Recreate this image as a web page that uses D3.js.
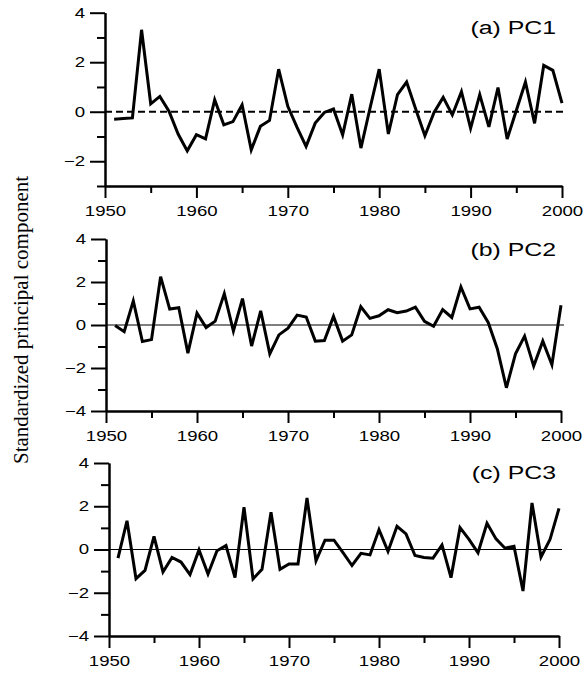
<!DOCTYPE html>
<html>
<head>
<meta charset="utf-8">
<script src="https://cdn.jsdelivr.net/npm/d3@7"></script>
<style>
  body { margin: 0; background: #fff; }
  svg { display: block; }
  .axis path, .axis line { stroke: #000; stroke-width: 2; }
  .axis text { font-family: "Liberation Sans", Arial, sans-serif; font-size: 14px; fill: #000; }
</style>
</head>
<body>
<div id="chart"></div>
<script>
// Years 1951-2000
const years = d3.range(1951, 2001);

const pc1 = [
  -0.30, -0.27, -0.25, 3.31, 0.32, 0.62, 0.02, -0.90, -1.58, -0.93,
  -1.10, 0.48, -0.53, -0.40, 0.28, -1.54, -0.59, -0.35, 1.72, 0.22,
  -0.62, -1.40, -0.46, -0.03, 0.11, -0.93, 0.71, -1.47, 0.15, 1.72,
  -0.90, 0.69, 1.20, 0.10, -0.97, -0.03, 0.58, -0.13, 0.81, -0.67,
  0.69, -0.61, 0.98, -1.10, 0.05, 1.20, -0.47, 1.87, 1.67, 0.35
];

const pc2 = [
  -0.02, -0.31, 1.12, -0.77, -0.68, 2.25, 0.74, 0.80, -1.31, 0.55,
  -0.12, 0.18, 1.46, -0.28, 1.23, -0.98, 0.66, -1.34, -0.46, -0.15,
  0.46, 0.37, -0.75, -0.72, 0.40, -0.75, -0.46, 0.85, 0.31, 0.43,
  0.71, 0.57, 0.65, 0.83, 0.17, -0.06, 0.72, 0.35, 1.77, 0.75,
  0.83, 0.12, -1.10, -2.92, -1.34, -0.52, -1.91, -0.75, -1.85, 0.92
];

const pc3 = [
  -0.40, 1.33, -1.35, -0.97, 0.61, -1.04, -0.37, -0.58, -1.16, -0.02,
  -1.13, -0.06, 0.18, -1.30, 1.96, -1.36, -0.92, 1.72, -0.92, -0.67,
  -0.67, 2.38, -0.52, 0.43, 0.43, -0.15, -0.74, -0.18, -0.25, 0.92,
  -0.09, 1.07, 0.72, -0.28, -0.37, -0.40, 0.21, -1.30, 1.01, 0.47,
  -0.15, 1.21, 0.49, 0.06, 0.15, -1.92, 2.15, -0.35, 0.46, 1.90
];

const xMajor = [1950, 1960, 1970, 1980, 1990, 2000];
const xMinor = [1955, 1965, 1975, 1985, 1995];
const yMajorA = [4, 2, 0, -2];
const yMinorA = [3, 1, -1, -3];
const yMajorBC = [4, 2, 0, -2, -4];
const yMinorBC = [3, 1, -1, -3];

const titles = ["(a) PC1", "(b) PC2", "(c) PC3"];

// panel layout (pixels)
const panels = [
  { values: pc1, domain: [-3, 4], major: yMajorA, minor: yMinorA, x0: 105, x1: 562, yTop: 12.7, yBot: 186, dashed: true,  titleY: 34 },
  { values: pc2, domain: [-4, 4], major: yMajorBC, minor: yMinorBC, x0: 106, x1: 561, yTop: 239, yBot: 411, dashed: false, titleY: 256 },
  { values: pc3, domain: [-4, 4], major: yMajorBC, minor: yMinorBC, x0: 109, x1: 559, yTop: 463, yBot: 636, dashed: false, titleY: 479 }
];

const W = 583, H = 673;
const stretch = 1.33; // labels in the source are wider than tall

const svg = d3.select("#chart").append("svg")
  .attr("width", W)
  .attr("height", H);

panels.forEach((p, i) => {
  const x = d3.scaleLinear().domain([1950, 2000]).range([p.x0, p.x1]);
  const y = d3.scaleLinear().domain(p.domain).range([p.yBot, p.yTop]);
  const g = svg.append("g");

  // zero line
  g.append("line")
    .attr("x1", x(1950)).attr("x2", x(2000) + 3)
    .attr("y1", y(0)).attr("y2", y(0))
    .attr("stroke", "#000")
    .attr("stroke-width", p.dashed ? 1.8 : 1.2)
    .attr("stroke-dasharray", p.dashed ? "7,4" : null);

  // minor ticks
  g.append("g")
    .attr("class", "axis")
    .attr("transform", `translate(${p.x0},0)`)
    .call(d3.axisLeft(y).tickValues(p.minor).tickSize(8).tickSizeOuter(0).tickFormat(""));
  g.append("g")
    .attr("class", "axis")
    .attr("transform", `translate(0,${p.yBot})`)
    .call(d3.axisBottom(x).tickValues(xMinor).tickSize(7).tickSizeOuter(0).tickFormat(""));

  // major ticks + labels
  const ya = g.append("g")
    .attr("class", "axis")
    .attr("transform", `translate(${p.x0},0)`)
    .call(d3.axisLeft(y).tickValues(p.major).tickSize(15).tickSizeOuter(0).tickPadding(5).tickFormat(d3.format("d")));
  ya.selectAll(".tick text")
    .attr("transform", function () {
      const tx = +d3.select(this).attr("x");
      return `translate(${tx},0) scale(${stretch},1)`;
    })
    .attr("x", 0);

  const xa = g.append("g")
    .attr("class", "axis")
    .attr("transform", `translate(0,${p.yBot})`)
    .call(d3.axisBottom(x).tickValues(xMajor).tickSize(12).tickSizeOuter(0).tickPadding(8).tickFormat(d3.format("d")));
  xa.selectAll(".tick text")
    .attr("transform", `scale(${stretch},1)`);

  // data line
  const line = d3.line()
    .x((d, j) => x(years[j]))
    .y(d => y(d));

  g.append("path")
    .datum(p.values)
    .attr("fill", "none")
    .attr("stroke", "#000")
    .attr("stroke-width", 3)
    .attr("stroke-linejoin", "miter")
    .attr("d", line);

  // panel title
  g.append("text")
    .attr("transform", `translate(556,${p.titleY}) scale(1.38,1)`)
    .attr("text-anchor", "end")
    .attr("font-family", "'Liberation Sans', Arial, sans-serif")
    .attr("font-size", 18)
    .text(titles[i]);
});

// shared y label
svg.append("text")
  .attr("transform", "translate(28,320) rotate(-90)")
  .attr("text-anchor", "middle")
  .attr("font-family", "'Liberation Serif', 'Times New Roman', serif")
  .attr("font-size", 21)
  .text("Standardized principal component");
</script>
</body>
</html>
